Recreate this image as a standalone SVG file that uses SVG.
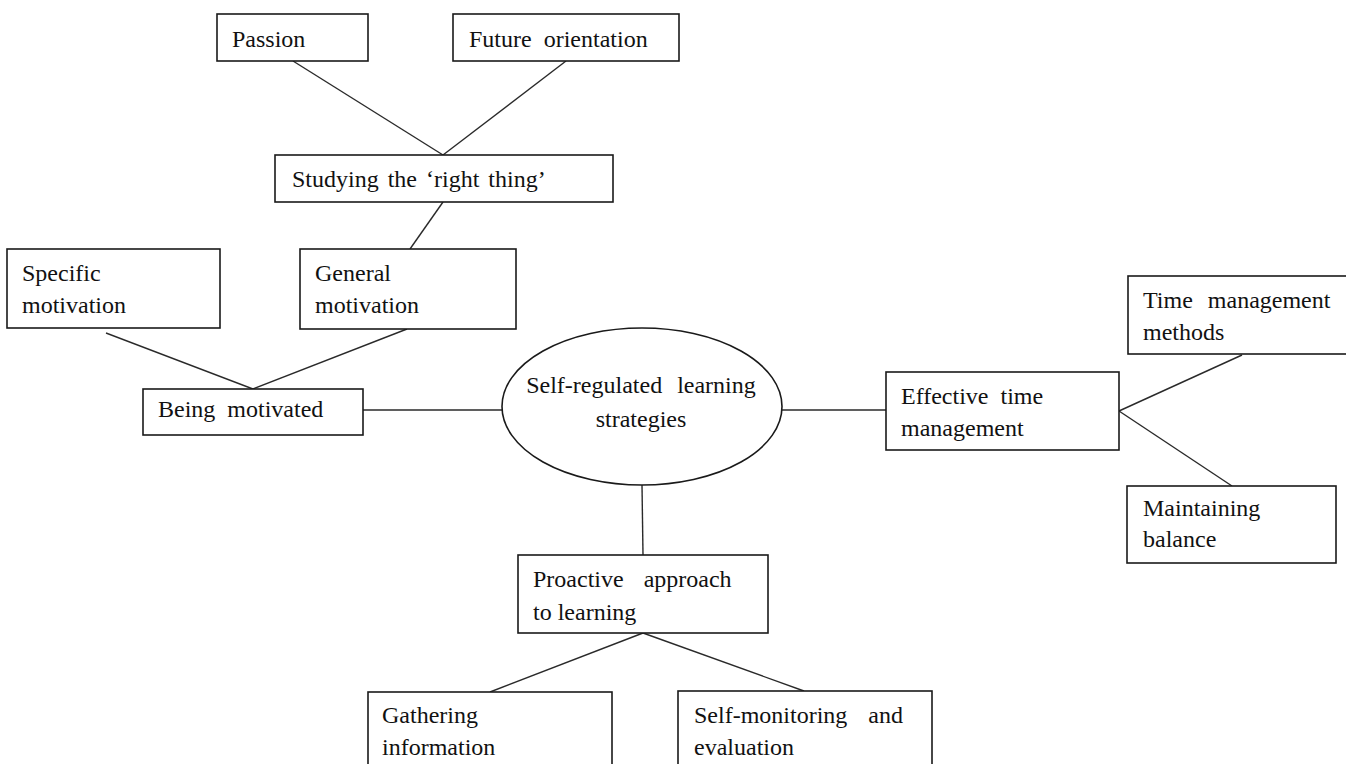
<svg xmlns="http://www.w3.org/2000/svg" width="1346" height="764" viewBox="0 0 1346 764" font-family="'Liberation Serif','Times New Roman',serif">
<style>
.box{fill:#fff;stroke:#1a1a1a;stroke-width:1.6}
.ln{stroke:#2a2a2a;stroke-width:1.4;fill:none}
text{font-family:"Liberation Serif","Times New Roman",serif;font-size:24px;fill:#111}
.ws{word-spacing:6px}
</style>
<rect width="1346" height="764" fill="#fff"/>
<g id="connectors">
<line class="ln" x1="293" y1="61" x2="443" y2="155"/>
<line class="ln" x1="566" y1="61" x2="443" y2="155"/>
<line class="ln" x1="443" y1="202" x2="410" y2="249"/>
<line class="ln" x1="106" y1="333" x2="253" y2="389"/>
<line class="ln" x1="407" y1="329" x2="253" y2="389"/>
<line class="ln" x1="363" y1="410" x2="502" y2="410"/>
<line class="ln" x1="782" y1="410" x2="886" y2="410"/>
<line class="ln" x1="1119" y1="411" x2="1242" y2="355"/>
<line class="ln" x1="1119" y1="411" x2="1232" y2="486"/>
<line class="ln" x1="642" y1="485" x2="643" y2="555"/>
<line class="ln" x1="643" y1="633" x2="490" y2="692"/>
<line class="ln" x1="643" y1="633" x2="804" y2="691"/>
</g>
<g id="passion"><rect class="box" x="217" y="14" width="151" height="47"/><text x="232" y="47">Passion</text></g>
<g id="future-orientation"><rect class="box" x="453" y="14" width="226" height="47"/><text class="ws" x="469" y="47">Future orientation</text></g>
<g id="studying"><rect class="box" x="275" y="155" width="338" height="47"/><text x="292" y="187" style="word-spacing:3px">Studying the ‘right thing’</text></g>
<g id="specific-motivation"><rect class="box" x="7" y="249" width="213" height="79"/><text x="22" y="281">Specific</text><text x="22" y="313">motivation</text></g>
<g id="general-motivation"><rect class="box" x="300" y="249" width="216" height="80"/><text x="315" y="281">General</text><text x="315" y="313">motivation</text></g>
<g id="being-motivated"><rect class="box" x="143" y="389" width="220" height="46"/><text class="ws" x="158" y="417">Being motivated</text></g>
<g id="center"><ellipse class="box" cx="642" cy="406.5" rx="140" ry="78.5"/><text x="641" y="393" text-anchor="middle" style="word-spacing:9px">Self-regulated learning</text><text x="641" y="427" text-anchor="middle">strategies</text></g>
<g id="effective-time"><rect class="box" x="886" y="372" width="233" height="78"/><text class="ws" x="901" y="404">Effective time</text><text x="901" y="436">management</text></g>
<g id="time-methods"><rect class="box" x="1128" y="276" width="222" height="78"/><text x="1143" y="308" style="word-spacing:9px">Time management</text><text x="1143" y="340">methods</text></g>
<g id="maintaining-balance"><rect class="box" x="1127" y="486" width="209" height="77"/><text x="1143" y="516">Maintaining</text><text x="1143" y="547">balance</text></g>
<g id="proactive"><rect class="box" x="518" y="555" width="250" height="78"/><text x="533" y="587" style="word-spacing:14px">Proactive approach</text><text x="533" y="620">to learning</text></g>
<g id="gathering"><rect class="box" x="368" y="692" width="244" height="90"/><text x="382" y="723">Gathering</text><text x="382" y="755">information</text></g>
<g id="self-monitoring"><rect class="box" x="678" y="691" width="254" height="90"/><text x="694" y="723" style="word-spacing:15px">Self-monitoring and</text><text x="694" y="755">evaluation</text></g>
</svg>
